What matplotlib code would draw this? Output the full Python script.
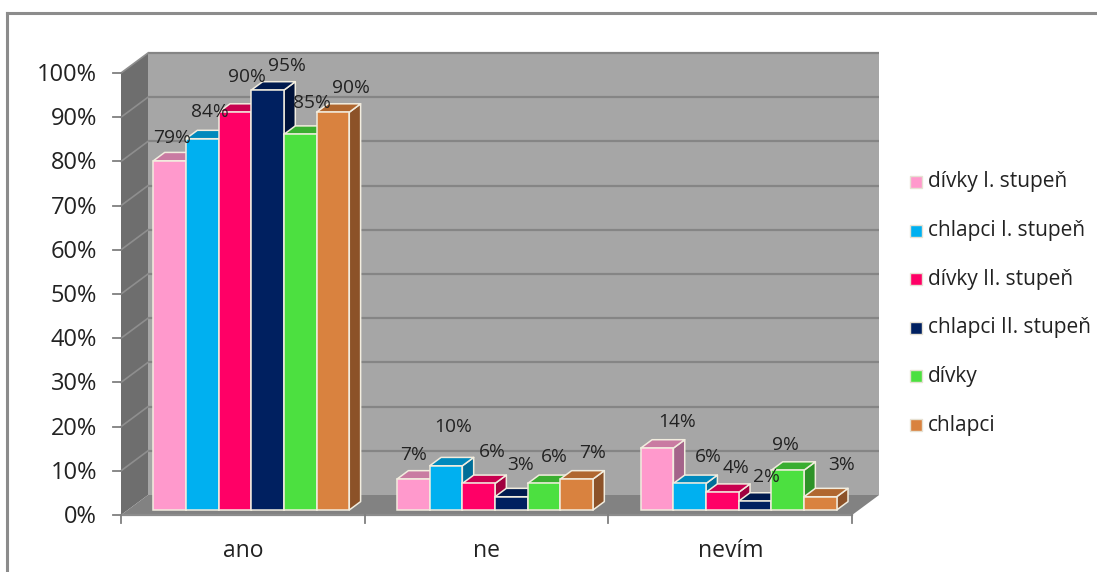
import matplotlib
matplotlib.use("Agg")
import matplotlib.pyplot as plt
from matplotlib.patches import Polygon, Rectangle
from matplotlib.lines import Line2D

plt.rcParams['font.family'] = ['Open Sans', 'DejaVu Sans']

# ---- data -------------------------------------------------------------
categories = ['ano', 'ne', 'nevím']
series_names = ['dívky I. stupeň', 'chlapci I. stupeň', 'dívky II. stupeň',
                'chlapci II. stupeň', 'dívky', 'chlapci']
divky_1 = [79, 7, 14]
chlapci_1 = [84, 10, 6]
divky_2 = [90, 6, 4]
chlapci_2 = [95, 3, 2]
divky = [85, 6, 9]
chlapci = [90, 7, 3]
series_values = [divky_1, chlapci_1, divky_2, chlapci_2, divky, chlapci]
y_ticks = [0, 10, 20, 30, 40, 50, 60, 70, 80, 90, 100]
y_tick_labels = [f'{t}%' for t in y_ticks]

# ---- styling ----------------------------------------------------------
front_colors = ['#FF99CC', '#00B0F0', '#FF0066', '#002060', '#4CE040', '#D9823F']
top_colors = ['#C97BA2', '#0089BC', '#C8004F', '#001A4E', '#3AAE30', '#B0672F']
side_colors = ['#A4648A', '#006E98', '#A0003F', '#00123A', '#2E9228', '#8C5228']
edge_col = '#F2EDDF'
text_col = '#222222'

# pixel-per-unit scale of the plot area
PX_X = 243.7      # pixels per category
PX_Y = 4.42       # pixels per percent
W, H = 1097, 572
X0_PX, Y0_PX = 121, 515   # position of category 0 / 0 %

# depth of the 3-D box in data units
DX = 27 / PX_X
DY = 20 / PX_Y
F0 = 0.25          # bars' front plane inside the box
FD = 0.42          # bar depth as fraction of box depth
BW = 0.134         # bar width (categories)
PAD = 0.105

fig = plt.figure(figsize=(W / 100, H / 100), dpi=100)
ax = fig.add_axes([0, 0, 1, 1])
ax.set_xlim(-X0_PX / PX_X, (W - X0_PX) / PX_X)
ax.set_ylim((Y0_PX - H) / PX_Y, Y0_PX / PX_Y)
ax.axis('off')


def px(x, y):
    """figure pixel (from top-left) -> data coords"""
    return (x - X0_PX) / PX_X, (Y0_PX - y) / PX_Y


ncat = len(categories)
ymax = y_ticks[-1]

# outer chart frame (top and left edges visible)
fig.add_artist(Line2D([7 / W, 1.0], [1 - 13 / H, 1 - 13 / H], transform=fig.transFigure,
                      color='#8C8C8C', lw=2.2))
fig.add_artist(Line2D([7 / W, 7 / W], [1 - 13 / H, 0.0], transform=fig.transFigure,
                      color='#8C8C8C', lw=2.2))

# walls and floor
ax.add_patch(Polygon([(DX, DY), (ncat + DX, DY), (ncat + DX, ymax + DY), (DX, ymax + DY)],
                     closed=True, facecolor='#A6A6A6', edgecolor='none', zorder=1))
ax.add_patch(Polygon([(0, 0), (DX, DY), (DX, ymax + DY), (0, ymax)],
                     closed=True, facecolor='#6E6E6E', edgecolor='none', zorder=1))
ax.add_patch(Polygon([(0, 0), (ncat, 0), (ncat + DX, DY), (DX, DY)],
                     closed=True, facecolor='#828282', edgecolor='none', zorder=1))

# gridlines on back and side walls
for t in y_ticks[1:]:
    ax.plot([DX, ncat + DX], [t + DY, t + DY], color='#858585', lw=1.6, zorder=2,
            solid_capstyle='butt')
    ax.plot([0, DX], [t, t + DY], color='#8E8E8E', lw=1.2, zorder=2)

# y axis ticks and labels
tick_len = 8 / PX_X
for t, lab in zip(y_ticks, y_tick_labels):
    ax.plot([-tick_len, 0], [t, t], color='#7F7F7F', lw=1.3, zorder=2)
    ax.text(-24 / PX_X, t - 2 / PX_Y, lab, ha='right', va='center', fontsize=17,
            color=text_col)

# x axis line, ticks and category labels
ax.plot([0, ncat], [0, 0], color='#8C8C8C', lw=1.6, zorder=2)
for i in range(ncat + 1):
    ax.plot([i, i], [0, -8 / PX_Y], color='#7F7F7F', lw=1.3, zorder=2)
for i, c in enumerate(categories):
    ax.text(i + 0.5, -36 / PX_Y, c, ha='center', va='center', fontsize=16.5, color=text_col)

# label nudges in pixels (dx, dy) relative to the top of each bar
label_nudge = [
    [(2, 23), (0, 24), (20, 26)],
    [(8, 27), (7, 39), (19, 26)],
    [(12, 35), (14, 31), (14, 24)],
    [(19, 24), (9, 32), (11, 24)],
    [(12, 31), (10, 26), (-2, 25)],
    [(18, 24), (16, 26), (21, 32)],
]

bx, by = FD * DX, FD * DY
for i in range(ncat):
    for j, vals in enumerate(series_values):
        v = vals[i]
        fx = i + PAD + j * BW + F0 * DX
        fy = F0 * DY
        side = [(fx + BW, fy), (fx + BW + bx, fy + by), (fx + BW + bx, fy + v + by), (fx + BW, fy + v)]
        top = [(fx, fy + v), (fx + BW, fy + v), (fx + BW + bx, fy + v + by), (fx + bx, fy + v + by)]
        z = 3 + j * 0.1
        ax.add_patch(Polygon(side, closed=True, facecolor=side_colors[j], edgecolor=edge_col,
                             lw=1.1, zorder=z, joinstyle='round'))
        ax.add_patch(Polygon(top, closed=True, facecolor=top_colors[j], edgecolor=edge_col,
                             lw=1.1, zorder=z, joinstyle='round'))
        ax.add_patch(Rectangle((fx, fy), BW, v, facecolor=front_colors[j], edgecolor=edge_col,
                               lw=1.1, zorder=z + 0.05))
        ndx, ndy = label_nudge[j][i]
        ax.annotate(f'{v}%', xy=(fx + BW / 2, fy + v), xytext=(ndx, ndy),
                    textcoords='offset pixels', ha='center', va='center',
                    fontsize=13.8, color=text_col, zorder=10)

# legend
for k, name in enumerate(series_names):
    yc = 182 + k * 48.6
    x0, y0 = px(910, yc + 6)
    x1, y1 = px(922, yc - 6)
    ax.add_patch(Rectangle((x0, y0), x1 - x0, y1 - y0, facecolor=front_colors[k],
                           edgecolor='#E6E1D3', lw=1.0, zorder=5, clip_on=False))
    tx, ty = px(928, yc)
    ax.text(tx, ty, name, ha='left', va='center', fontsize=15, color=text_col)

fig.savefig('out.png', dpi=100)
